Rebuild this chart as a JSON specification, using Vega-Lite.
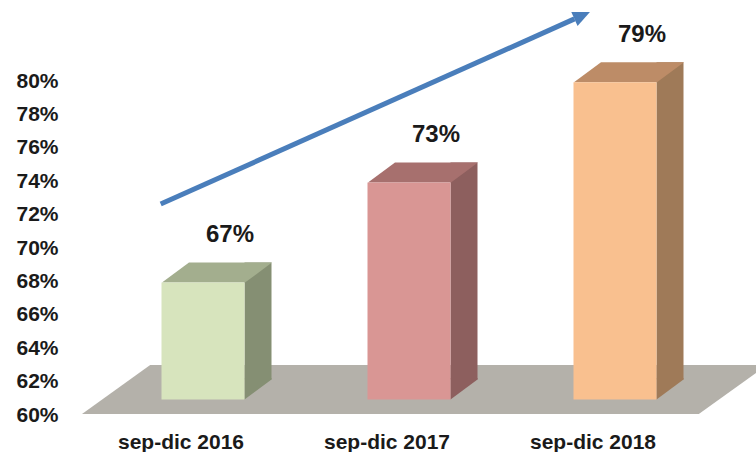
{
  "$schema": "https://vega.github.io/schema/vega-lite/v6.json",
  "width": 618,
  "height": 334,
  "autosize": {"type": "none"},
  "padding": {"left": 78, "top": 81, "right": 60, "bottom": 37},
  "background": "white",
  "config": {"view": {"stroke": null}, "font": "Liberation Sans"},
  "data": {"values": [
    {"period": "sep-dic 2016", "value": 67, "label": "67%"},
    {"period": "sep-dic 2017", "value": 73, "label": "73%"},
    {"period": "sep-dic 2018", "value": 79, "label": "79%"}
  ]},
  "encoding": {
    "x": {"field": "period", "type": "nominal", "sort": null,
      "scale": {"domain": ["sep-dic 2016", "sep-dic 2017", "sep-dic 2018"], "paddingInner": 0, "paddingOuter": 0},
      "axis": {"title": null, "labelAngle": 0, "domain": false, "ticks": false, "labelPadding": 16,
        "labelFont": "Liberation Sans", "labelFontWeight": "bold", "labelFontSize": 21, "labelColor": "#1a1a1a"}},
    "y": {"field": "value", "type": "quantitative",
      "scale": {"domain": [60, 80], "nice": false, "zero": false},
      "axis": {"title": null, "values": [60, 62, 64, 66, 68, 70, 72, 74, 76, 78, 80], "labelExpr": "datum.value + '%'",
        "grid": false, "domain": false, "ticks": false, "labelPadding": 20,
        "labelFont": "Liberation Sans", "labelFontWeight": "bold", "labelFontSize": 21, "labelColor": "#1a1a1a"}}
  },
  "layer": [
    {
      "transform": [{"filter": "datum.period == 'sep-dic 2017'"}],
      "mark": {"type": "point", "filled": true, "opacity": 1, "strokeWidth": 0, "color": "#b4b1aa",
        "shape": "M-1,0.0715L0.801,0.0715L1,-0.0715L-0.801,-0.0715Z", "size": 469225, "xOffset": 37.5, "yOffset": -25.5},
      "encoding": {"y": {"datum": 60}}
    },
    {
      "mark": {"type": "bar", "width": 27, "opacity": 1, "xOffset": 77, "yOffset": -35.5, "y2Offset": -35.5},
      "encoding": {
        "y2": {"datum": 60},
        "color": {"field": "period", "type": "nominal", "sort": null, "legend": null,
          "scale": {"range": ["#858f73", "#8d5f5e", "#9f7a58"]}}
      }
    },
    {
      "mark": {"type": "point", "filled": true, "opacity": 1, "strokeWidth": 0,
        "shape": "M-1,-0.85L1,-0.85L1,-0.741L-1,0.741Z", "size": 729, "xOffset": 77, "yOffset": -25.5},
      "encoding": {
        "y": {"datum": 60},
        "color": {"field": "period", "type": "nominal", "sort": null, "legend": null,
          "scale": {"range": ["#858f73", "#8d5f5e", "#9f7a58"]}}
      }
    },
    {
      "mark": {"type": "point", "filled": true, "opacity": 1, "strokeWidth": 0,
        "shape": "M-0.991,0.182L0.518,0.182L1.009,-0.182L-0.5,-0.182Z", "size": 12100, "xOffset": 35.5, "yOffset": -25.5},
      "encoding": {
        "color": {"field": "period", "type": "nominal", "sort": null, "legend": null,
          "scale": {"range": ["#a3ae8e", "#a7706e", "#bd8c67"]}}
      }
    },
    {
      "mark": {"type": "bar", "width": 83, "opacity": 1, "xOffset": 22, "yOffset": -15.5, "y2Offset": -15.5},
      "encoding": {
        "y2": {"datum": 60},
        "color": {"field": "period", "type": "nominal", "sort": null, "legend": null,
          "scale": {"range": ["#d7e4bd", "#d99694", "#f9c08f"]}}
      }
    },
    {
      "mark": {"type": "text", "font": "Liberation Sans", "fontWeight": "bold", "fontSize": 24, "color": "#1a1a1a",
        "baseline": "middle", "align": "center", "xOffset": 49, "yOffset": -63},
      "encoding": {"text": {"field": "label", "type": "nominal"}}
    },
    {
      "transform": [{"filter": "datum.period == 'sep-dic 2016'"}],
      "mark": {"type": "rule", "color": "#4a7ebb", "strokeWidth": 5, "strokeCap": "butt", "xOffset": -20.3, "x2Offset": -18.5},
      "encoding": {"x": {"datum": "sep-dic 2016"}, "x2": {"datum": "sep-dic 2018"}, "y": {"datum": 72.63}, "y2": {"datum": 83.72}}
    },
    {
      "transform": [{"filter": "datum.period == 'sep-dic 2018'"}],
      "mark": {"type": "point", "filled": true, "opacity": 1, "strokeWidth": 0, "color": "#4a7ebb",
        "shape": "M1,0L-1,-0.9L-1,0.9Z", "size": 289, "angle": -24.1, "xOffset": -10.8},
      "encoding": {"y": {"datum": 83.92}}
    }
  ],
  "resolve": {"scale": {"color": "independent"}}
}
